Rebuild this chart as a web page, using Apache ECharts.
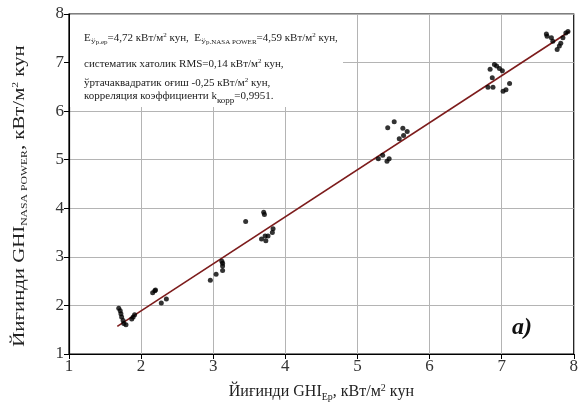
<!DOCTYPE html>
<html><head><meta charset="utf-8">
<script src="https://cdn.jsdelivr.net/npm/echarts@6/dist/echarts.min.js"></script>
<style>html,body{margin:0;padding:0;background:#fff}#c{width:581px;height:407px}</style>
</head><body><div id="c"></div>
<script>
// measured (x = GHI_Ер, y = GHI_NASA POWER), kWh/m2 day
const groundX = [1.69,1.71,1.72,1.73,1.75,1.76,1.79,1.87,1.89,1.91,
  2.16,2.19,2.20,2.28,2.35,
  2.96,3.04,3.13,3.13,3.13,3.12,
  3.45,3.70,3.71,3.67,3.73,3.72,3.76,3.82,3.83,
  5.29,5.35,5.41,5.44,5.42,5.51,5.63,5.69,5.64,5.58,
  6.84,6.90,6.93,6.97,7.01,6.87,6.81,6.88,7.02,7.06,7.11,
  7.62,7.63,7.69,7.71,7.82,7.80,7.77,7.89,7.92,7.85];
const nasaY = [1.94,1.89,1.83,1.76,1.69,1.63,1.60,1.72,1.76,1.81,
  2.26,2.30,2.32,2.05,2.13,
  2.52,2.64,2.72,2.81,2.87,2.91,
  3.73,3.92,3.87,3.37,3.33,3.43,3.43,3.50,3.58,
  5.02,5.09,4.97,5.02,5.66,5.78,5.65,5.58,5.50,5.43,
  6.86,6.96,6.93,6.88,6.83,6.69,6.49,6.49,6.41,6.44,6.57,
  7.59,7.54,7.51,7.44,7.40,7.34,7.27,7.61,7.64,7.51];
// regression line end points
const fitX = [1.67, 7.94];
const fitY = [1.57, 7.64];
const ticks = [1,2,3,4,5,6,7,8];

const serif = 'Liberation Serif';
const chart = echarts.init(document.getElementById('c'));
const pts = groundX.map((x,i)=>[x,nasaY[i]]);
const fit = fitX.map((x,i)=>[x,fitY[i]]);
const base = {fontFamily:serif,color:'#222'};
const gbase = {fontFamily:serif,fill:'#222'};
chart.setOption({
  backgroundColor:'#fff',
  animation:false,
  grid:{left:69,right:5,top:14,bottom:48,show:true,borderColor:'#000',borderWidth:1.2},
  xAxis:{type:'value',min:ticks[0],max:ticks[ticks.length-1],interval:1,
    axisLine:{lineStyle:{color:'#000',width:1.2}},
    axisTick:{show:true,length:5,lineStyle:{color:'#000'}},
    splitLine:{lineStyle:{color:'#b4b4b4',width:1}},
    axisLabel:{fontFamily:serif,fontSize:17,color:'#333',margin:4},
    name:'{a|Йиғинди GHI}{s|Ер}{a|, кВт/м}{p|2}{a| кун}',nameLocation:'middle',nameGap:28,
    nameTextStyle:{rich:{a:{...base,fontSize:16},s:{...base,fontSize:10,padding:[10,0,0,0]},p:{...base,fontSize:10,padding:[0,0,8,0]}}}
  },
  yAxis:{type:'value',min:ticks[0],max:ticks[ticks.length-1],interval:1,
    axisLine:{lineStyle:{color:'#000',width:1.2}},
    axisTick:{show:true,length:5,lineStyle:{color:'#000'}},
    splitLine:{lineStyle:{color:'#b4b4b4',width:1}},
    axisLabel:{fontFamily:serif,fontSize:17,color:'#333',margin:5}
  },
  series:[
    {type:'line',data:fit,symbol:'none',lineStyle:{color:'#7d1c1c',width:1.6},z:3},
    {type:'scatter',data:pts,symbol:'circle',symbolSize:5,itemStyle:{color:'#000'},z:4}
  ],
  graphic:[
    {type:'text',x:20,y:196,rotation:Math.PI/2,scaleX:1.3,z:101,style:{
      text:'{a|Йиғинди GHI}{s|NASA POWER}{a|, кВт/м}{p|2}{a| кун}',align:'center',verticalAlign:'middle',
      rich:{a:{...gbase,fontSize:16},s:{...gbase,fontSize:9,padding:[9,0,0,0]},p:{...gbase,fontSize:9,padding:[0,0,8,0]}}}},
    {type:'rect',shape:{x:70,y:15,width:273,height:92},style:{fill:'#fff'},z:100},
    {type:'text',left:84,top:32,z:101,style:{
      text:'{a|E}{s|Ўр.ер}{a|=4,72 кВт/м}{p|2}{a| кун,  E}{s|Ўр.NASA POWER}{a|=4,59 кВт/м}{p|2}{a| кун,}',
      rich:{a:{...gbase,fontSize:11},s:{...gbase,fontSize:7,padding:[7,0,0,0]},p:{...gbase,fontSize:7,padding:[0,0,6,0]}}}},
    {type:'text',left:84,top:58,z:101,style:{
      text:'{a|систематик хатолик RMS=0,14 кВт/м}{p|2}{a| кун,}',
      rich:{a:{...gbase,fontSize:11},p:{...gbase,fontSize:7,padding:[0,0,6,0]}}}},
    {type:'text',left:84,top:77,z:101,style:{
      text:'{a|ўртачаквадратик оғиш -0,25 кВт/м}{p|2}{a| кун,}',
      rich:{a:{...gbase,fontSize:11},p:{...gbase,fontSize:7,padding:[0,0,6,0]}}}},
    {type:'text',left:84,top:91,z:101,style:{
      text:'{a|корреляция коэффициенти k}{s|корр}{a|=0,9951.}',
      rich:{a:{...gbase,fontSize:11},s:{...gbase,fontSize:9,padding:[8,0,0,0]}}}},
    {type:'text',left:512,top:316,z:101,style:{text:'a)',fontFamily:serif,fontSize:24,fontWeight:'bold',fontStyle:'italic',fill:'#111',backgroundColor:'#fff'}}
  ]
});
</script></body></html>
